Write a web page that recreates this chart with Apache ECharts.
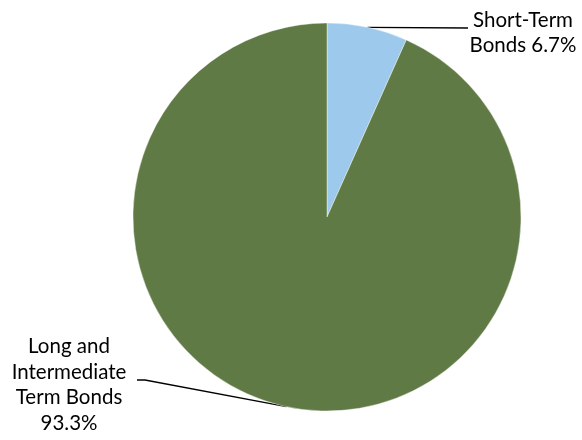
<!DOCTYPE html>
<html>
<head>
<meta charset="utf-8">
<script src="https://cdn.jsdelivr.net/npm/echarts@6/dist/echarts.min.js"></script>
<style>
  html, body { margin: 0; padding: 0; background: #fff; }
  #chart { width: 582px; height: 440px; }
</style>
</head>
<body>
<div id="chart"></div>
<script>
// Data
const categories = ['Short-Term Bonds', 'Long and Intermediate Term Bonds'];
const labelTexts = ['Short-Term\nBonds', 'Long and\nIntermediate\nTerm Bonds\n'];
const values = [6.7, 93.3];
const colors = ['#9DC9EC', '#5F7A44'];

var chartDom = document.getElementById('chart');
var myChart = echarts.init(chartDom);

// label placement (text anchor + elbow of the leader line)
const labelSpots = [
  { x: 523, y: 33, elbow: [468, 28], end: [468, 28] },
  { x: 69, y: 385, elbow: [145, 380], end: [137, 380] }
];

var option = {
  animation: false,
  series: [{
    type: 'pie',
    center: [327, 217],
    radius: 194,
    startAngle: 90,
    clockwise: true,
    data: categories.map((name, i) => ({
      name: name,
      value: values[i],
      itemStyle: { color: colors[i] }
    })),
    itemStyle: { borderColor: '#fff', borderWidth: 0.4 },
    label: {
      show: true,
      formatter: (p) => {
        const t = labelTexts[p.dataIndex];
        return p.dataIndex === 0 ? t + ' ' + p.value + '%' : t + p.value + '%';
      },
      fontFamily: 'Lato',
      fontSize: 20.5,
      lineHeight: 25.5,
      color: '#000',
      align: 'center'
    },
    labelLine: {
      show: true,
      lineStyle: { color: '#000', width: 1.3 }
    },
    labelLayout: (params) => {
      const s = labelSpots[params.dataIndex];
      const start = params.labelLinePoints ? params.labelLinePoints[0] : s.elbow;
      return {
        x: s.x,
        y: s.y,
        align: 'center',
        verticalAlign: 'middle',
        labelLinePoints: [start, s.elbow, s.end]
      };
    }
  }]
};

option && myChart.setOption(option);
</script>
</body>
</html>
